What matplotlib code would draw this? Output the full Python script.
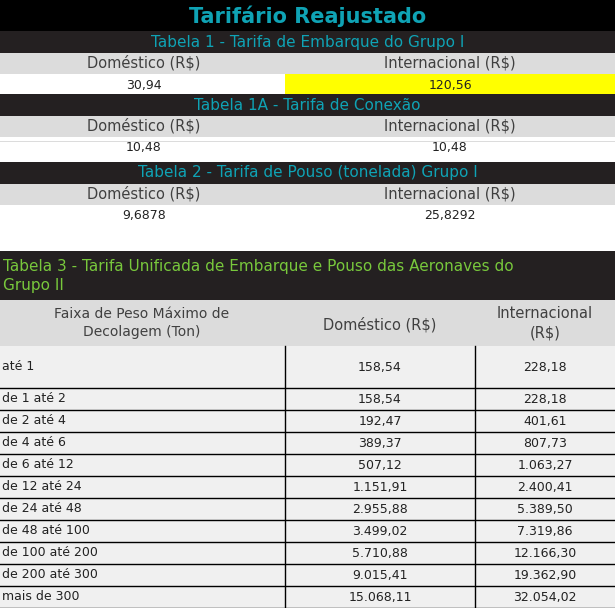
import matplotlib
matplotlib.use("Agg")
import matplotlib.pyplot as plt
from matplotlib.patches import Rectangle

title = "Tarifário Reajustado"
t1_title = "Tabela 1 - Tarifa de Embarque do Grupo I"
t1a_title = "Tabela 1A - Tarifa de Conexão"
t2_title = "Tabela 2 - Tarifa de Pouso (tonelada) Grupo I"
col_dom = "Doméstico (R$)"
col_int = "Internacional (R$)"
t1_vals = ["30,94", "120,56"]
t1a_vals = ["10,48", "10,48"]
t2_vals = ["9,6878", "25,8292"]
t3_title = "Tabela 3 - Tarifa Unificada de Embarque e Pouso das Aeronaves do\nGrupo II"
t3_headers = ["Faixa de Peso Máximo de\nDecolagem (Ton)", "Doméstico (R$)", "Internacional\n(R$)"]
faixas = ["até 1", "de 1 até 2", "de 2 até 4", "de 4 até 6", "de 6 até 12", "de 12 até 24",
          "de 24 até 48", "de 48 até 100", "de 100 até 200", "de 200 até 300", "mais de 300"]
dom = ["158,54", "158,54", "192,47", "389,37", "507,12", "1.151,91", "2.955,88",
       "3.499,02", "5.710,88", "9.015,41", "15.068,11"]
intl = ["228,18", "228,18", "401,61", "807,73", "1.063,27", "2.400,41", "5.389,50",
        "7.319,86", "12.166,30", "19.362,90", "32.054,02"]

W, H = 615, 608
fig = plt.figure(figsize=(W/100, H/100), dpi=100)
ax = fig.add_axes([0, 0, 1, 1])
ax.set_xlim(0, W); ax.set_ylim(H, 0); ax.axis("off")

DARK = "#242021"; GRAY = "#dcdcdc"; CYAN = "#0fa3b5"; GREEN = "#78c83c"; TXT = "#404040"
FONT = "DejaVu Sans"

def rect(x0, y0, x1, y1, c):
    ax.add_patch(Rectangle((x0, y0), x1-x0, y1-y0, color=c, lw=0))

def txt(x, y, s, **kw):
    kw.setdefault("ha", "center"); kw.setdefault("va", "center")
    kw.setdefault("family", FONT)
    ax.text(x, y, s, **kw)

rect(0, 0, W, 31, "black")
txt(W/2, 16, title, color=CYAN, fontsize=15, fontweight="bold")

SPLIT = 285
def small_table(y0, name, vals, hl=False):
    rect(0, y0, W, y0+22, DARK)
    txt(W/2, y0+11, name, color=CYAN, fontsize=11)
    rect(0, y0+22, W, y0+43, GRAY)
    txt(144, y0+32, col_dom, color=TXT, fontsize=10.5)
    txt(450, y0+32, col_int, color=TXT, fontsize=10.5)
    if hl:
        rect(SPLIT, y0+43, W, y0+64, "#ffff00")
    txt(144, y0+54, vals[0], color="#222222", fontsize=9)
    txt(450, y0+54, vals[1], color="#222222", fontsize=9)

small_table(31, t1_title, t1_vals, hl=True)
small_table(94, t1a_title, t1a_vals)
small_table(162, t2_title, t2_vals)
rect(0, 141, W, 141.5, GRAY)

rect(0, 251, W, 300, DARK)
txt(3, 276, t3_title, color=GREEN, fontsize=11, ha="left", linespacing=1.35)
rect(0, 300, W, 346, GRAY)
C1, C2 = 285, 475
txt(142, 323, t3_headers[0], color=TXT, fontsize=10, linespacing=1.35)
txt(380, 325, t3_headers[1], color=TXT, fontsize=10.5)
txt(545, 323, t3_headers[2], color=TXT, fontsize=10.5, linespacing=1.35)

row_edges = [346, 388] + [388 + 22*(i+1) for i in range(len(faixas)-1)]
row_edges[-1] = min(row_edges[-1], H)
for i, (f, d, n) in enumerate(zip(faixas, dom, intl)):
    a, b = row_edges[i], row_edges[i+1]
    rect(0, a, W, b, "#f0f0f0")
    ym = (a+b)/2
    txt(2, ym, f, ha="left", color="#222222", fontsize=9)
    txt(380, ym, d, color="#222222", fontsize=9)
    txt(545, ym, n, color="#222222", fontsize=9)
for y in row_edges[1:]:
    ax.plot([0, W], [y, y], color="black", lw=1)
for x in (C1, C2):
    ax.plot([x, x], [346, H], color="black", lw=1)

fig.savefig("out.png", dpi=100)
